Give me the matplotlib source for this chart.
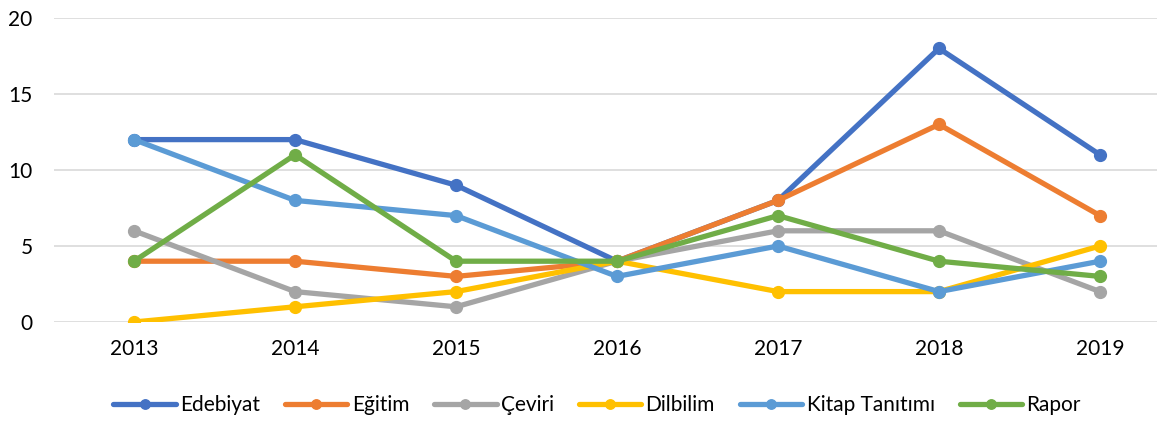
import numpy as np
import matplotlib.pyplot as plt

plt.rcParams['font.family'] = ['Lato', 'DejaVu Sans']

years = ['2013', '2014', '2015', '2016', '2017', '2018', '2019']
edebiyat = [12, 12, 9, 4, 8, 18, 11]
egitim = [4, 4, 3, 4, 8, 13, 7]
ceviri = [6, 2, 1, 4, 6, 6, 2]
dilbilim = [0, 1, 2, 4, 2, 2, 5]
kitap = [12, 8, 7, 3, 5, 2, 4]
rapor = [4, 11, 4, 4, 7, 4, 3]

series = [
    ('Edebiyat', edebiyat, '#4472C4'),
    ('Eğitim', egitim, '#ED7D31'),
    ('Çeviri', ceviri, '#A5A5A5'),
    ('Dilbilim', dilbilim, '#FFC000'),
    ('Kitap Tanıtımı', kitap, '#5B9BD5'),
    ('Rapor', rapor, '#70AD47'),
]

W, H = 1157, 421
fig = plt.figure(figsize=(W / 100, H / 100), dpi=100)
left = 53.5 / W
ax = fig.add_axes([left, (H - 322) / H, 1 - left, (322 - 18) / H])

x = np.arange(len(years))
for name, vals, col in series:
    ax.plot(x, vals, color=col, lw=3.8, marker='o', ms=8.5, label=name,
            solid_capstyle='round')

ax.set_ylim(0, 20)
ax.set_yticks([0, 5, 10, 15, 20])
ax.set_xlim(-0.5, (W - 134) / 161)
ax.set_xticks(x)
ax.set_xticklabels(years)
ax.yaxis.grid(True, color='#D9D9D9', lw=1.2)
ax.set_axisbelow(True)
for s in ax.spines.values():
    s.set_visible(False)
ax.tick_params(length=0, labelsize=15, colors='#000000')
ax.tick_params(axis='y', pad=15)
ax.tick_params(axis='x', pad=12)

leg = fig.legend(loc='center', bbox_to_anchor=(0.516, (H - 405) / H), ncol=6,
                 frameon=False, fontsize=15, handlelength=3.0,
                 columnspacing=1.2, handletextpad=0.2, markerscale=0.8)

fig.savefig('out.png', dpi=100)
